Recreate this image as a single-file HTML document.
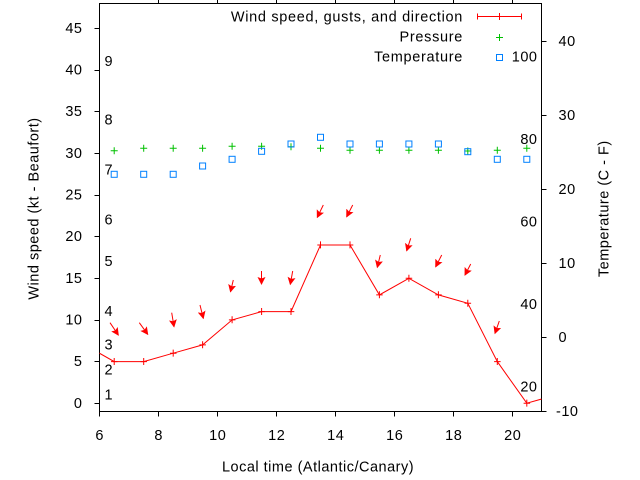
<!DOCTYPE html>
<html><head><meta charset="utf-8"><style>
html,body{margin:0;padding:0;background:#fff;}
svg{display:block;}
text{font-family:"Liberation Sans",Arial,sans-serif;font-size:14.5px;letter-spacing:0.5px;fill:#000;}
.lg{letter-spacing:0.68px;}
</style></head><body>
<svg width="640" height="480" viewBox="0 0 640 480" xmlns="http://www.w3.org/2000/svg">
<defs>
<clipPath id="pc"><rect x="99.5" y="3.5" width="442" height="408"/></clipPath>
<marker id="ah" markerWidth="8" markerHeight="8" refX="7" refY="4" orient="auto" markerUnits="userSpaceOnUse">
<path d="M0,0 L8,4 L0,8 L1.5,4 z" fill="#ff0000"/>
</marker>
</defs>
<rect width="640" height="480" fill="#fff"/>

<rect x="99.5" y="3.5" width="442" height="408" fill="none" stroke="#000" stroke-width="1"/>

<g stroke="#000" stroke-width="1">
<path d="M94.5,403.5H99.5 M94.5,361.5H99.5 M94.5,320.5H99.5 M94.5,278.5H99.5 M94.5,236.5H99.5 M94.5,195.5H99.5 M94.5,153.5H99.5 M94.5,111.5H99.5 M94.5,70.5H99.5 M94.5,28.5H99.5"/>
<path d="M99.5,411.5V416.5 M158.5,411.5V416.5 M217.5,411.5V416.5 M276.5,411.5V416.5 M335.5,411.5V416.5 M394.5,411.5V416.5 M453.5,411.5V416.5 M512.5,411.5V416.5"/>
<path d="M158.5,3.5V-1 M217.5,3.5V-1 M276.5,3.5V-1 M335.5,3.5V-1 M394.5,3.5V-1 M453.5,3.5V-1 M512.5,3.5V-1"/>
<path d="M541.5,411.5H546.5 M541.5,337.5H546.5 M541.5,263.5H546.5 M541.5,189.5H546.5 M541.5,115.5H546.5 M541.5,41.5H546.5"/>
</g>

<g text-anchor="end">
<text x="82.5" y="408">0</text>
<text x="82.5" y="366">5</text>
<text x="82.5" y="324.5">10</text>
<text x="82.5" y="283">15</text>
<text x="82.5" y="241">20</text>
<text x="82.5" y="199.5">25</text>
<text x="82.5" y="158">30</text>
<text x="82.5" y="116">35</text>
<text x="82.5" y="74.5">40</text>
<text x="82.5" y="33">45</text>
</g>

<g text-anchor="middle">
<text x="99.7" y="440">6</text>
<text x="158.7" y="440">8</text>
<text x="217.7" y="440">10</text>
<text x="276.7" y="440">12</text>
<text x="335.7" y="440">14</text>
<text x="394.7" y="440">16</text>
<text x="453.7" y="440">18</text>
<text x="512.7" y="440">20</text>
</g>

<g>
<text x="556" y="416">-10</text>
<text x="558.5" y="342">0</text>
<text x="558.5" y="268">10</text>
<text x="558.5" y="194">20</text>
<text x="558.5" y="120">30</text>
<text x="558.5" y="46">40</text>
</g>

<g text-anchor="end">
<text x="537.5" y="391.5">20</text>
<text x="537.5" y="309">40</text>
<text x="537.5" y="226.5">60</text>
<text x="537.5" y="144">80</text>
<text x="537.5" y="61.5">100</text>
</g>

<g>
<text x="104.5" y="399.5">1</text>
<text x="104.5" y="374.5">2</text>
<text x="104.5" y="349.5">3</text>
<text x="104.5" y="316">4</text>
<text x="104.5" y="266">5</text>
<text x="104.5" y="224.5">6</text>
<text x="104.5" y="174.5">7</text>
<text x="104.5" y="124.5">8</text>
<text x="104.5" y="66">9</text>
</g>

<text transform="translate(38.5,208.5) rotate(-90)" text-anchor="middle">Wind speed (kt - Beaufort)</text>
<text transform="translate(608.5,208.7) rotate(-90)" text-anchor="middle">Temperature (C - F)</text>
<text x="318" y="471.5" text-anchor="middle">Local time (Atlantic/Canary)</text>

<g text-anchor="end" class="lg">
<text class="lg" x="463" y="21.3">Wind speed, gusts, and direction</text>
<text class="lg" x="463" y="41.3">Pressure</text>
<text class="lg" x="463" y="61.3">Temperature</text>
</g>
<g stroke="#ff0000" stroke-width="1" fill="none">
<path d="M477.5,16.5H521.5 M477.5,13.5V19.5 M521.5,13.5V19.5 M499.5,13V20"/>
</g>
<path d="M496,37.5H503 M499.5,34V41" stroke="#00c000" stroke-width="1" fill="none"/>
<rect x="496.5" y="54.5" width="6" height="6" stroke="#0080ff" stroke-width="1" fill="none"/>

<g clip-path="url(#pc)">
<polyline fill="none" stroke="#ff0000" stroke-width="1" points="84.8,344.9 114.2,361.6 143.7,361.6 173.2,353.2 202.6,344.9 232.1,319.9 261.6,311.6 291.0,311.6 320.5,245.0 350.0,245.0 379.4,294.9 408.9,278.3 438.4,294.9 467.8,303.3 497.3,361.6 526.8,403.2 556.2,394.9"/>
<g stroke="#ff0000" stroke-width="1" fill="none">
<path d="M111,361.6h6.5M114.2,358v7
M140.5,361.6h6.5M143.7,358v7
M170,353.2h6.5M173.2,349.6v7
M199.4,344.9h6.5M202.6,341.3v7
M228.9,319.9h6.5M232.1,316.3v7
M258.4,311.6h6.5M261.6,308v7
M287.8,311.6h6.5M291.0,308v7
M317.3,245h6.5M320.5,241.4v7
M346.8,245h6.5M350.0,241.4v7
M376.2,294.9h6.5M379.4,291.3v7
M405.7,278.3h6.5M408.9,274.7v7
M435.2,294.9h6.5M438.4,291.3v7
M464.6,303.3h6.5M467.8,299.7v7
M494.1,361.6h6.5M497.3,358v7
M523.6,403.2h6.5M526.8,399.6v7"/>
</g>
<g stroke="#ff0000" stroke-width="1" fill="none" marker-end="url(#ah)">
<line x1="110" y1="322.7" x2="118.3" y2="335"/>
<line x1="139.3" y1="322.7" x2="147.7" y2="334.3"/>
<line x1="171.7" y1="312.7" x2="174" y2="326.7"/>
<line x1="200" y1="305" x2="203.3" y2="318.3"/>
<line x1="233.3" y1="280" x2="230.5" y2="291.7"/>
<line x1="261.5" y1="271" x2="261.5" y2="284"/>
<line x1="292.7" y1="271" x2="290.3" y2="284.3"/>
<line x1="323.3" y1="205" x2="317.3" y2="217.3"/>
<line x1="352.7" y1="205" x2="346.7" y2="216.7"/>
<line x1="380.3" y1="255" x2="377.3" y2="267.3"/>
<line x1="410.7" y1="238.3" x2="406.7" y2="250.7"/>
<line x1="441.7" y1="255" x2="435.7" y2="266.7"/>
<line x1="470.7" y1="264" x2="465" y2="275"/>
<line x1="499.3" y1="321" x2="495" y2="333.3"/>
</g>

<g stroke="#00c000" stroke-width="1" fill="none">
<path d="M110.7,150.7h7M114.2,147.2v7
M140.2,148.3h7M143.7,144.8v7
M169.7,148.3h7M173.2,144.8v7
M199.1,148.3h7M202.6,144.8v7
M228.6,146.3h7M232.1,142.8v7
M258.1,146.3h7M261.6,142.8v7
M287.5,146.7h7M291.0,143.2v7
M317,148.3h7M320.5,144.8v7
M346.5,150.3h7M350.0,146.8v7
M375.9,150.3h7M379.4,146.8v7
M405.4,150.3h7M408.9,146.8v7
M434.9,150.3h7M438.4,146.8v7
M464.3,151h7M467.8,147.5v7
M493.8,150.3h7M497.3,146.8v7
M523.3,148.3h7M526.8,144.8v7"/>
</g>

<g stroke="#0080ff" stroke-width="1" fill="none">
<rect x="111.2" y="171.3" width="6" height="6"/>
<rect x="140.7" y="171.3" width="6" height="6"/>
<rect x="170.2" y="171.3" width="6" height="6"/>
<rect x="199.6" y="163" width="6" height="6"/>
<rect x="229.1" y="156.3" width="6" height="6"/>
<rect x="258.6" y="148.3" width="6" height="6"/>
<rect x="288" y="141" width="6" height="6"/>
<rect x="317.5" y="134.3" width="6" height="6"/>
<rect x="347" y="141" width="6" height="6"/>
<rect x="376.4" y="141" width="6" height="6"/>
<rect x="405.9" y="141" width="6" height="6"/>
<rect x="435.4" y="141" width="6" height="6"/>
<rect x="464.8" y="148.7" width="6" height="6"/>
<rect x="494.3" y="156.3" width="6" height="6"/>
<rect x="523.8" y="156.3" width="6" height="6"/>
</g>
</g>
</svg>
</body></html>
